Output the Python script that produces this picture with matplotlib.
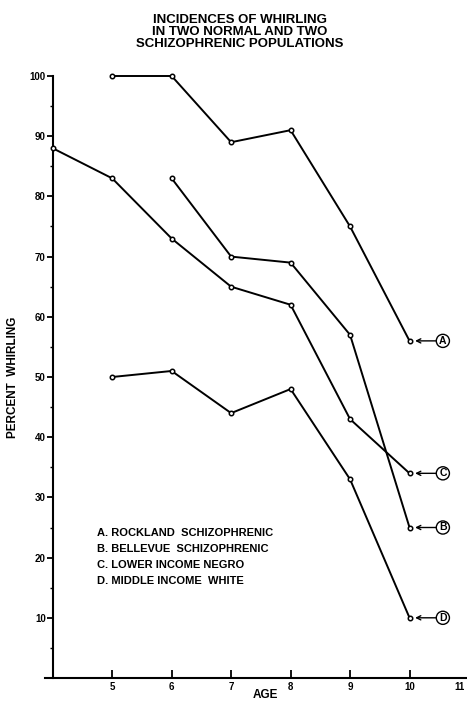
import numpy as np
import matplotlib.pyplot as plt
import matplotlib.transforms as mtransforms

# data
ages_a = [5, 6, 7, 8, 9, 10]
rockland = [100, 100, 89, 91, 75, 56]
ages_b = [6, 7, 8, 9, 10]
bellevue = [83, 70, 69, 57, 25]
ages_c = [4, 5, 6, 7, 8, 9, 10]
lower_negro = [88, 83, 73, 65, 62, 43, 34]
ages_d = [5, 6, 7, 8, 9, 10]
middle_white = [50, 51, 44, 48, 33, 10]

series_letters = ['A', 'B', 'C', 'D']
legend_lines = [
    'A. ROCKLAND  SCHIZOPHRENIC',
    'B. BELLEVUE  SCHIZOPHRENIC',
    'C. LOWER INCOME NEGRO',
    'D. MIDDLE INCOME  WHITE',
]
x_ticks = [5, 6, 7, 8, 9, 10, 11]
y_ticks = [10, 20, 30, 40, 50, 60, 70, 80, 90, 100]

plt.rcParams['font.family'] = ['Liberation Sans', 'DejaVu Sans']
plt.rcParams['font.weight'] = 'bold'

fig = plt.figure(figsize=(4.67, 7.04), dpi=100)
W, H = 467, 704
left_px, right_px = 45, 469
top_px, bot_px = 76, 678
ax = fig.add_axes([left_px / W, 1 - bot_px / H, (right_px - left_px) / W, (bot_px - top_px) / H])

all_series = [(ages_a, rockland), (ages_b, bellevue), (ages_c, lower_negro), (ages_d, middle_white)]
for xs, ys in all_series:
    ax.plot(xs, ys, color='black', linewidth=1.4, marker='o', markersize=3.2,
            markerfacecolor='white', markeredgecolor='black', markeredgewidth=1.1,
            clip_on=False, zorder=3)

# circled end labels with arrows
for letter, (xs, ys) in zip(series_letters, all_series):
    ax.annotate(letter, xy=(xs[-1], ys[-1]), xytext=(24, 0), textcoords='offset points',
                ha='center', va='center', fontsize=7.5, fontweight='bold',
                bbox=dict(boxstyle='circle,pad=0.15', fc='white', ec='black', lw=1.0),
                arrowprops=dict(arrowstyle='->', color='black', lw=1.0,
                                shrinkA=0, shrinkB=4))

ax.set_xlim(3.87, 11)
ax.set_ylim(0, 100)
ax.spines['top'].set_visible(False)
ax.spines['right'].set_visible(False)
ax.spines['left'].set_position(('data', 4))
ax.spines['left'].set_linewidth(1.5)
ax.spines['bottom'].set_linewidth(1.5)

ax.set_xticks(x_ticks)
ax.set_xticklabels([str(t) for t in x_ticks])
ax.set_yticks(y_ticks)
ax.set_yticklabels([str(t) for t in y_ticks])
ax.set_yticks(np.arange(5, 100, 10), minor=True)
ax.tick_params(axis='y', which='major', direction='out', length=4, width=1.3, labelsize=7, pad=1)
ax.tick_params(axis='y', which='minor', direction='out', length=2.5, width=1.0)
ax.tick_params(axis='x', which='major', direction='in', length=6, width=1.3, labelsize=7, pad=3)
# last tick label sits at the figure edge; nudge it inside
last = ax.get_xticklabels()[-1]
last.set_horizontalalignment('right')
last.set_transform(last.get_transform() + mtransforms.ScaledTranslation(-4 / 100, 0, fig.dpi_scale_trans))

ax.set_xlabel('AGE', fontsize=8.5, fontweight='bold')
ax.xaxis.set_label_coords((265 - left_px) / (right_px - left_px), -0.018)
ax.set_ylabel('PERCENT  WHIRLING', fontsize=8.5, fontweight='bold')
ax.yaxis.set_label_coords((19 - left_px) / (right_px - left_px), 0.5)

for i, line in enumerate(legend_lines):
    fig.text(97 / W, 1 - (533 + 16 * i) / H, line, fontsize=8, fontweight='bold',
             ha='left', va='center')

fig.text(240 / W, 1 - 32 / H,
         'INCIDENCES OF WHIRLING\nIN TWO NORMAL AND TWO\nSCHIZOPHRENIC POPULATIONS',
         ha='center', va='center', fontsize=9.5, fontweight='bold', linespacing=1.0)

fig.savefig('out.png', dpi=100)
